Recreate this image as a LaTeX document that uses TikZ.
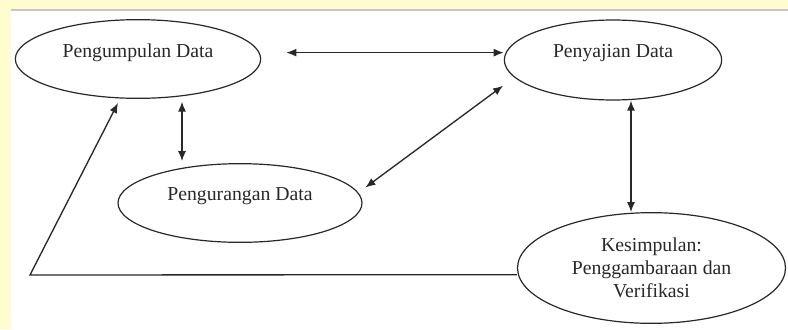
\documentclass[tikz,border=0pt]{standalone}
\usepackage{fontspec}
\setmainfont{Liberation Serif}
\usetikzlibrary{shapes.geometric,arrows.meta}
\definecolor{margin}{RGB}{255,252,208}
\definecolor{ink}{RGB}{40,40,40}
\tikzset{
  tahap/.style={ellipse, draw=ink, line width=0.9pt, inner sep=0pt, text=ink,
    font=\fontsize{14.8}{17.3}\selectfont},
  panah/.style={draw=ink, line width=1pt},
  >={Latex[length=7.5pt,width=6pt]},
}
\begin{document}
\begin{tikzpicture}[x=0.75pt,y=-0.75pt]%
        \useasboundingbox (0,0) rectangle (788,329);
        \fill[margin] (0,0) rectangle (788,329);
        \fill[white] (11,10) rectangle (788,329);
        \draw[gray!45, line width=1.2pt] (11,10) -- (788,10);
        \node[tahap, minimum width=184pt, minimum height=59pt, text depth=13pt] (kumpul) at (138,59) {Pengumpulan Data};
        \node[tahap, minimum width=163pt, minimum height=60pt, text depth=13pt] (saji) at (613,60) {Penyajian Data};
        \node[tahap, minimum width=183pt, minimum height=59pt, text depth=13pt] (kurang) at (240,203) {Pengurangan Data};
        \node[tahap, minimum width=201pt, minimum height=83pt, align=center] (simpul) at (651.5,268) {Kesimpulan:\\Penggambaraan dan\\Verifikasi};
        \coordinate (sudut) at (30,275);
        \draw[panah, <->, shorten <=20pt] (kumpul.3) -- (kumpul.3 -| saji.west);
        \draw[panah, <->] ([xshift=33pt,yshift=-2pt]kumpul.south) -- ([xshift=33pt,yshift=1.5pt]kumpul.south |- kurang.north);
        \draw[panah, <->, shorten <=6.5pt, shorten >=10.5pt] (kurang.5) -- (saji.190);
        \draw[panah, <->] ([xshift=13.5pt]saji.south) -- ([xshift=13.5pt]saji.south |- simpul.north);
        \draw[panah, ->] ([yshift=-5pt]simpul.west) -- (sudut) -- ([xshift=-15pt,yshift=-3pt]kumpul.south);
    \end{tikzpicture}
\end{document}
